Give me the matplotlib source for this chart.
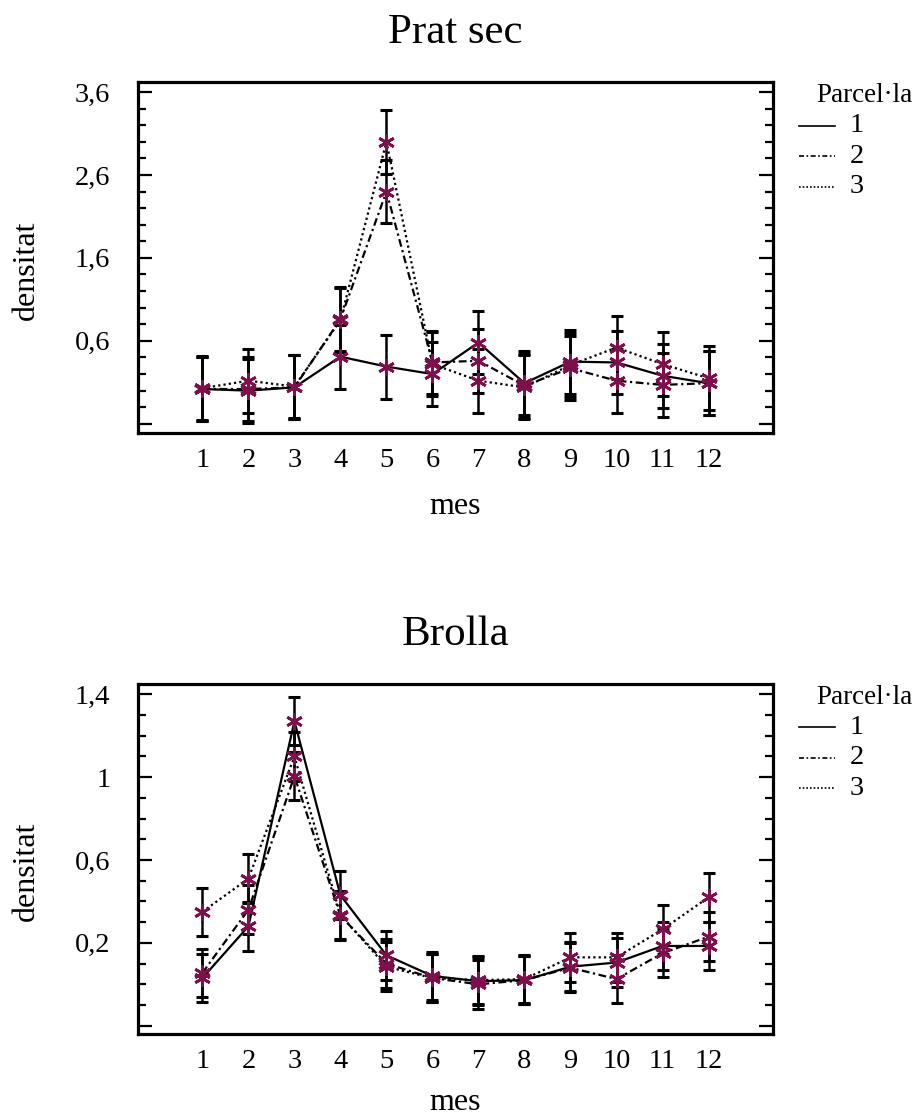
#!/usr/bin/env python3

import matplotlib
matplotlib.use('Agg')
import matplotlib.pyplot as plt
from matplotlib.lines import Line2D
from matplotlib.ticker import MultipleLocator

plt.rcParams['font.family'] = ['Liberation Serif', 'DejaVu Serif']

MESOS = [1, 2, 3, 4, 5, 6, 7, 8, 9, 10, 11, 12]
PARCELES = ['1', '2', '3']

# Prat sec: mean density per month for each parcel
PRAT_1 = [0.02, 0.00, 0.04, 0.41, 0.29, 0.20, 0.58, 0.09, 0.35, 0.34, 0.18, 0.09]
PRAT_2 = [0.02, 0.02, 0.04, 0.86, 2.40, 0.34, 0.36, 0.06, 0.27, 0.12, 0.07, 0.09]
PRAT_3 = [0.03, 0.12, 0.05, 0.85, 3.00, 0.32, 0.12, 0.04, 0.31, 0.52, 0.32, 0.15]
PRAT_ERR = 0.385
PRAT_YTICKS = [-0.4, 0.6, 1.6, 2.6, 3.6]
PRAT_YLABELS = ['', '0,6', '1,6', '2,6', '3,6']

# Brolla
BROLLA_1 = [0.03, 0.28, 1.27, 0.43, 0.14, 0.04, 0.015, 0.02, 0.085, 0.105, 0.185, 0.185]
BROLLA_2 = [0.055, 0.36, 1.005, 0.33, 0.10, 0.03, 0.0, 0.02, 0.08, 0.025, 0.15, 0.23]
BROLLA_3 = [0.35, 0.51, 1.10, 0.335, 0.085, 0.03, 0.02, 0.025, 0.13, 0.13, 0.265, 0.42]
BROLLA_ERR = 0.117
BROLLA_YTICKS = [-0.2, 0.2, 0.6, 1.0, 1.4]
BROLLA_YLABELS = ['', '0,2', '0,6', '1', '1,4']

STYLES = ['-', (0, (3.5, 1.6, 1, 1.6)), (0, (1, 1.4))]
LEGEND_STYLES = ['-', (0, (3, 1.5, 1, 1.5)), (0, (1, 1.2))]
MARKER_COLOR = '#7d0f4b'
TICK_FONT = 20.5
LABEL_FONT = 23
LEGEND_FONT = 19.5


def draw_panel(ax, title, series, err, yticks, ylabels, ylim, minor, xlabel_y):
    for values, style in zip(series, STYLES):
        ax.errorbar(MESOS, values, yerr=err, fmt='none', ecolor='k',
                    elinewidth=1.8, capsize=4, capthick=2.2, zorder=2)
        ax.plot(MESOS, values, color='k', linestyle=style, lw=1.6, zorder=3)
        ax.plot(MESOS, values, linestyle='none', marker=(6, 2, 0),
                markersize=12, markeredgewidth=2, color=MARKER_COLOR, zorder=4)

    ax.set_xlim(-0.4, 13.4)
    ax.set_ylim(*ylim)
    ax.set_xticks(MESOS)
    ax.set_xticklabels([str(m) for m in MESOS])
    ax.set_yticks(yticks)
    ax.set_yticklabels(ylabels)
    ax.yaxis.set_minor_locator(MultipleLocator(minor))

    ax.tick_params(axis='x', length=0, pad=11, labelsize=TICK_FONT)
    ax.tick_params(axis='y', which='both', direction='in', left=True, right=True,
                   width=1.6, pad=20, labelsize=TICK_FONT)
    ax.tick_params(axis='y', which='major', length=10)
    ax.tick_params(axis='y', which='minor', length=5.5)
    for spine in ax.spines.values():
        spine.set_linewidth(2.3)

    ax.set_title(title, fontsize=31, pad=28)
    ax.set_xlabel('mes', fontsize=LABEL_FONT)
    ax.xaxis.set_label_coords(0.5, xlabel_y)
    ax.xaxis.label.set_va('center')
    ax.set_ylabel('densitat', fontsize=LABEL_FONT)
    ax.yaxis.set_label_coords(-0.175, 0.465)
    ax.yaxis.label.set_va('center')

    # legend drawn by hand, Statgraphics style
    ax.text(1.069, 0.962, 'Parcel\u00b7la', transform=ax.transAxes,
            fontsize=LEGEND_FONT, va='center', ha='left')
    for i, (label, style) in enumerate(zip(PARCELES, LEGEND_STYLES)):
        y = 0.876 - i * 0.087
        ax.add_line(Line2D([1.041, 1.098], [y, y], transform=ax.transAxes,
                           color='k', linestyle=style, lw=1.2, clip_on=False))
        ax.text(1.121, y, label, transform=ax.transAxes,
                fontsize=LEGEND_FONT + 1, va='center', ha='left')


fig = plt.figure(figsize=(9.18, 11.2), dpi=100)
ax_top = fig.add_axes([0.1503, 0.6134, 0.6917, 0.3134])
ax_bot = fig.add_axes([0.1503, 0.0768, 0.6917, 0.3125])

draw_panel(ax_top, 'Prat sec', [PRAT_1, PRAT_2, PRAT_3], PRAT_ERR,
           PRAT_YTICKS, PRAT_YLABELS, (-0.51, 3.72), 0.2, -0.21)
draw_panel(ax_bot, 'Brolla', [BROLLA_1, BROLLA_2, BROLLA_3], BROLLA_ERR,
           BROLLA_YTICKS, BROLLA_YLABELS, (-0.24, 1.45), 0.1, -0.197)

fig.savefig('out.png', dpi=100)
